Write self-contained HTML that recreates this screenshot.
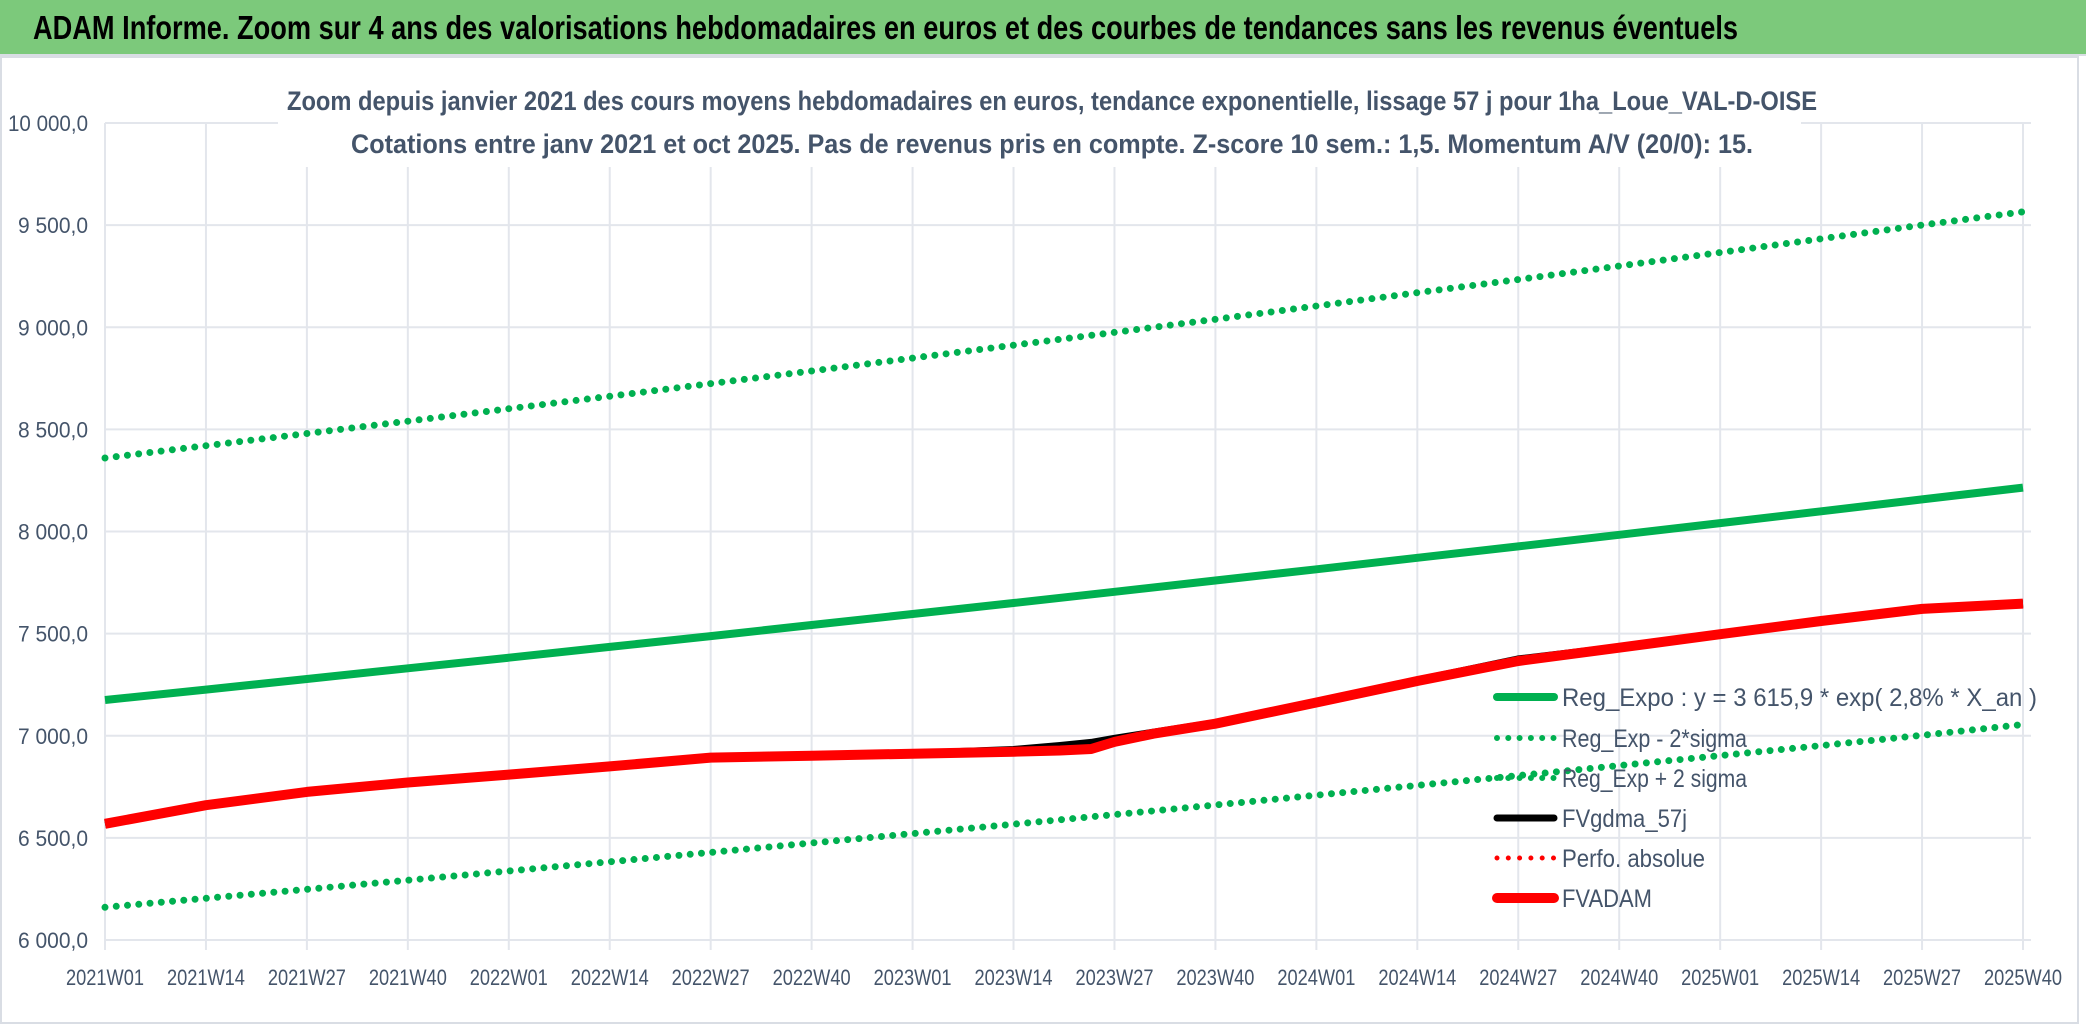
<!DOCTYPE html>
<html><head><meta charset="utf-8"><style>
html,body{margin:0;padding:0;background:#fff;}
svg{display:block;font-family:"Liberation Sans",sans-serif;}
</style></head><body>
<svg id="chart" width="2086" height="1031" viewBox="0 0 2086 1031" xmlns="http://www.w3.org/2000/svg">
<rect x="0" y="0" width="2086" height="1031" fill="#fff"/>
<rect x="0" y="0" width="2086" height="54" fill="#7cc97b"/>
<line x1="0" y1="55" x2="2086" y2="55" stroke="#d9dde4" stroke-width="2"/>
<text x="33" y="39" font-size="33" font-weight="bold" fill="#000" textLength="1705" lengthAdjust="spacingAndGlyphs">ADAM Informe. Zoom sur 4 ans des valorisations hebdomadaires en euros et des courbes de tendances sans les revenus éventuels</text>
<rect x="1" y="57" width="2077" height="966" fill="none" stroke="#d9dde4" stroke-width="2"/>
<g id="grid"></g>
<rect x="278" y="60" width="1523" height="107" fill="#fff"/>
<text x="1052" y="110" font-size="27" font-weight="bold" fill="#44546a" text-anchor="middle" textLength="1530" lengthAdjust="spacingAndGlyphs">Zoom depuis janvier 2021 des cours moyens hebdomadaires en euros, tendance exponentielle, lissage 57 j pour 1ha_Loue_VAL-D-OISE</text>
<text x="1052" y="153" font-size="27" font-weight="bold" fill="#44546a" text-anchor="middle" textLength="1402" lengthAdjust="spacingAndGlyphs">Cotations entre janv 2021 et oct 2025. Pas de revenus pris en compte. Z-score 10 sem.: 1,5. Momentum A/V (20/0): 15.</text>
<g id="axes"></g>
<g id="series"></g>
<g id="legend"></g>
</svg>
<script>
const tickLabels = ["2021W01","2021W14","2021W27","2021W40","2022W01","2022W14","2022W27","2022W40","2023W01","2023W14","2023W27","2023W40","2024W01","2024W14","2024W27","2024W40","2025W01","2025W14","2025W27","2025W40"];
const yTicks = [6000,6500,7000,7500,8000,8500,9000,9500,10000];
const yTickLabels = ["6 000,0","6 500,0","7 000,0","7 500,0","8 000,0","8 500,0","9 000,0","9 500,0","10 000,0"];
const trendWeeks = [0,13,26,39,52,65,78,91,104,117,130,143,156,169,182,195,208,221,234,247];
const regExpo = [7175,7226,7278,7330,7382,7435,7488,7542,7596,7650,7705,7760,7815,7871,7927,7984,8041,8099,8157,8215];
const regUpper = [8360,8420,8480,8540,8601,8662,8724,8786,8849,8912,8975,9039,9104,9169,9234,9300,9366,9433,9500,9565];
const regLower = [6160,6204,6248,6293,6338,6383,6429,6475,6521,6567,6614,6661,6709,6757,6805,6854,6903,6952,7002,7055];
const fvWeeks = [0,13,26,39,52,65,78,91,104,117,123,127,130,135,143,156,169,182,195,208,221,234,247];
const fvadam = [6569,6660,6725,6771,6810,6850,6893,6902,6912,6922,6928,6935,6970,7010,7059,7163,7268,7366,7431,7497,7562,7621,7647];
const fvgdma = [6569,6660,6725,6771,6810,6850,6893,6902,6912,6930,6950,6965,6985,7015,7062,7165,7270,7374,7433,7497,7562,7621,7647];

const NS="http://www.w3.org/2000/svg";
const X0=105, X1=2023, W_MAX=247, Y_BOT=940, Y_TOP=123, V_MIN=6000, V_MAX=10000;
function xS(w){return X0+(X1-X0)*w/W_MAX;}
function yS(v){return Y_BOT-(Y_BOT-Y_TOP)*(v-V_MIN)/(V_MAX-V_MIN);}
function mk(tag,attrs,parent){const e=document.createElementNS(NS,tag);for(const k in attrs)e.setAttribute(k,attrs[k]);parent.appendChild(e);return e;}

const grid=document.getElementById('grid');
yTicks.forEach((v,i)=>{
  const l=mk('line',{x1:X0,x2:X1+8,y1:yS(v),y2:yS(v),stroke:'#e3e6ec','stroke-width':2},grid);
  
  
});
tickLabels.forEach((t,i)=>{
  const x=xS(i*13);
  const l=mk('line',{x1:x,x2:x,y1:Y_TOP,y2:Y_BOT+10,stroke:'#e3e6ec','stroke-width':2},grid);
  
  
});
const axes=document.getElementById('axes');
yTicks.forEach((v,i)=>{
  const t=mk('text',{x:88,y:yS(v)+8,'font-size':22,fill:'#44546a','text-anchor':'end',textLength:yTickLabels[i].length>7?80:70,lengthAdjust:'spacingAndGlyphs'},axes);
  t.textContent=yTickLabels[i];
  
  
});
tickLabels.forEach((s,i)=>{
  const t=mk('text',{x:xS(i*13),y:985,'font-size':22,fill:'#44546a','text-anchor':'middle',textLength:78,lengthAdjust:'spacingAndGlyphs'},axes);
  t.textContent=s;
  
  
});
function pts(ws,vs){return ws.map((w,i)=>xS(w).toFixed(1)+','+yS(vs[i]).toFixed(1)).join(' ');}
const series=document.getElementById('series');
const dotted={'stroke-dasharray':'0 11.3','stroke-linecap':'round'};
const s1=mk('polyline',Object.assign({points:pts(trendWeeks,regUpper),fill:'none',stroke:'#00b050','stroke-width':7},dotted),series);


const s2=mk('polyline',Object.assign({points:pts(trendWeeks,regLower),fill:'none',stroke:'#00b050','stroke-width':7},dotted),series);


const s3=mk('polyline',{points:pts(trendWeeks,regExpo),fill:'none',stroke:'#00b050','stroke-width':8,'stroke-linejoin':'round'},series);


const s4=mk('polyline',{points:pts(fvWeeks,fvgdma),fill:'none',stroke:'#000','stroke-width':8,'stroke-linejoin':'round'},series);


const s5=mk('polyline',{points:pts(fvWeeks,fvadam),fill:'none',stroke:'#ff0000','stroke-width':10,'stroke-linejoin':'round'},series);



const legendItems=[
 {label:'Reg_Expo : y = 3 615,9 * exp( 2,8% *  X_an )',color:'#00b050',dot:false,w:8,y:697,len:475},
 {label:'Reg_Exp - 2*sigma',color:'#00b050',dot:true,w:6,y:738,len:185},
 {label:'Reg_Exp + 2 sigma',color:'#00b050',dot:true,w:6,y:778,len:185},
 {label:'FVgdma_57j',color:'#000',dot:false,w:7,y:818,len:125},
 {label:'Perfo. absolue',color:'#ff0000',dot:true,w:5,y:858,len:143},
 {label:'FVADAM',color:'#ff0000',dot:false,w:10,y:898,len:90}
];
const lg=document.getElementById('legend');
legendItems.forEach(it=>{
  const a={x1:1497,x2:1554,y1:it.y,y2:it.y,stroke:it.color,'stroke-width':it.w,'stroke-linecap':'round'};
  if(it.dot){a['stroke-dasharray']='0 11.3';}
  const l=mk('line',a,lg);
  
  
  const t=mk('text',{x:1562,y:it.y+9,'font-size':25,fill:'#44546a',textLength:it.len,lengthAdjust:'spacingAndGlyphs'},lg);
  t.textContent=it.label;
  
  
});
</script>
</body></html>
